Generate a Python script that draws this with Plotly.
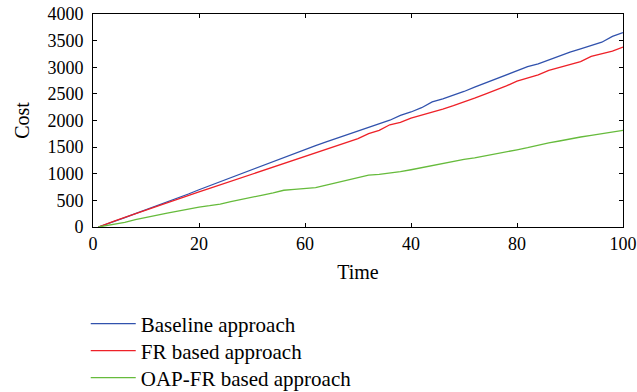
import plotly.graph_objects as go

time = [1, 2, 4, 6, 8, 10, 12, 14, 16, 18, 20, 22, 24, 26, 28, 30, 32, 34, 36, 38, 40,
        42, 44, 46, 48, 50, 52, 54, 56, 58, 60, 62, 64, 66, 68, 70, 72, 74, 76, 78, 80,
        82, 84, 86, 88, 90, 92, 94, 96, 98, 100]

baseline = [0, 38, 108, 178, 250, 322, 395, 468, 542, 620, 700, 776, 852, 928, 1002, 1078,
            1150, 1228, 1310, 1385, 1460, 1530, 1598, 1665, 1735, 1800, 1868, 1935, 2005,
            2095, 2160, 2240, 2350, 2405, 2470, 2545, 2625, 2700, 2775, 2850, 2935, 3010,
            3065, 3140, 3210, 3285, 3345, 3410, 3470, 3580, 3650]

fr_based = [0, 40, 110, 180, 250, 318, 385, 452, 520, 590, 660, 725, 792, 858, 925, 992,
            1060, 1125, 1190, 1255, 1322, 1390, 1455, 1520, 1588, 1660, 1755, 1815, 1920,
            1965, 2045, 2100, 2150, 2215, 2280, 2345, 2420, 2495, 2570, 2650, 2740, 2800,
            2855, 2940, 2995, 3055, 3105, 3205, 3255, 3305, 3380]

oap_fr = [0, 15, 45, 85, 140, 185, 225, 262, 300, 340, 375, 400, 430, 475, 520, 560, 600,
          640, 690, 705, 720, 740, 785, 830, 880, 930, 975, 990, 1010, 1040, 1075, 1115,
          1160, 1200, 1235, 1270, 1300, 1335, 1380, 1415, 1450, 1490, 1540, 1580, 1615,
          1655, 1690, 1720, 1755, 1785, 1815]

series_names = ["Baseline approach", "FR based approach", "OAP-FR based approach"]
series_colors = ["#3152ad", "#ee2128", "#66bb3c"]

x_tickvals = [0, 20, 40, 60, 80, 100]
x_ticktext = ["0", "20", "60", "40", "80", "100"]
y_tickvals = [0, 500, 1000, 1500, 2000, 2500, 3000, 3500, 4000]

FONT = "Liberation Serif"
legend_ids = ["legend", "legend2", "legend3"]
legend_y = [-0.455, -0.582, -0.709]

fig = go.Figure()
for name, vals, col, lg in zip(series_names, [baseline, fr_based, oap_fr], series_colors, legend_ids):
    fig.add_trace(go.Scatter(x=time, y=vals, mode="lines", name=name, legend=lg,
                             line=dict(color=col, width=1.3)))

axis_common = dict(showline=True, linecolor="black", linewidth=1, mirror="allticks",
                   ticks="inside", ticklen=4, tickcolor="black", showgrid=False,
                   zeroline=False, automargin=False, ticklabeloverflow="allow",
                   tickfont=dict(family=FONT, size=18, color="black"))

legend_style = dict(x=-0.0137, xanchor="left", yanchor="middle",
                    font=dict(family=FONT, size=21, color="black"),
                    itemwidth=45, bgcolor="rgba(0,0,0,0)", borderwidth=0)

fig.update_layout(
    width=637, height=392,
    margin=dict(l=93, r=14, t=14, b=165, autoexpand=False),
    paper_bgcolor="white", plot_bgcolor="white",
    font=dict(family=FONT, size=18, color="black"),
    xaxis=dict(range=[0, 100], tickvals=x_tickvals, ticktext=x_ticktext,
               title=dict(text="Time", font=dict(family=FONT, size=20), standoff=12),
               ticklabelstandoff=0, **axis_common),
    yaxis=dict(range=[0, 4000], tickvals=y_tickvals,
               title=dict(text="Cost", font=dict(family=FONT, size=20), standoff=12),
               ticklabelstandoff=5, **axis_common),
    legend=dict(y=legend_y[0], **legend_style),
    legend2=dict(y=legend_y[1], **legend_style),
    legend3=dict(y=legend_y[2], **legend_style),
    showlegend=True,
)

fig.write_html("out.html", config={"displayModeBar": False},
               post_script="document.body.style.margin='0px';")
